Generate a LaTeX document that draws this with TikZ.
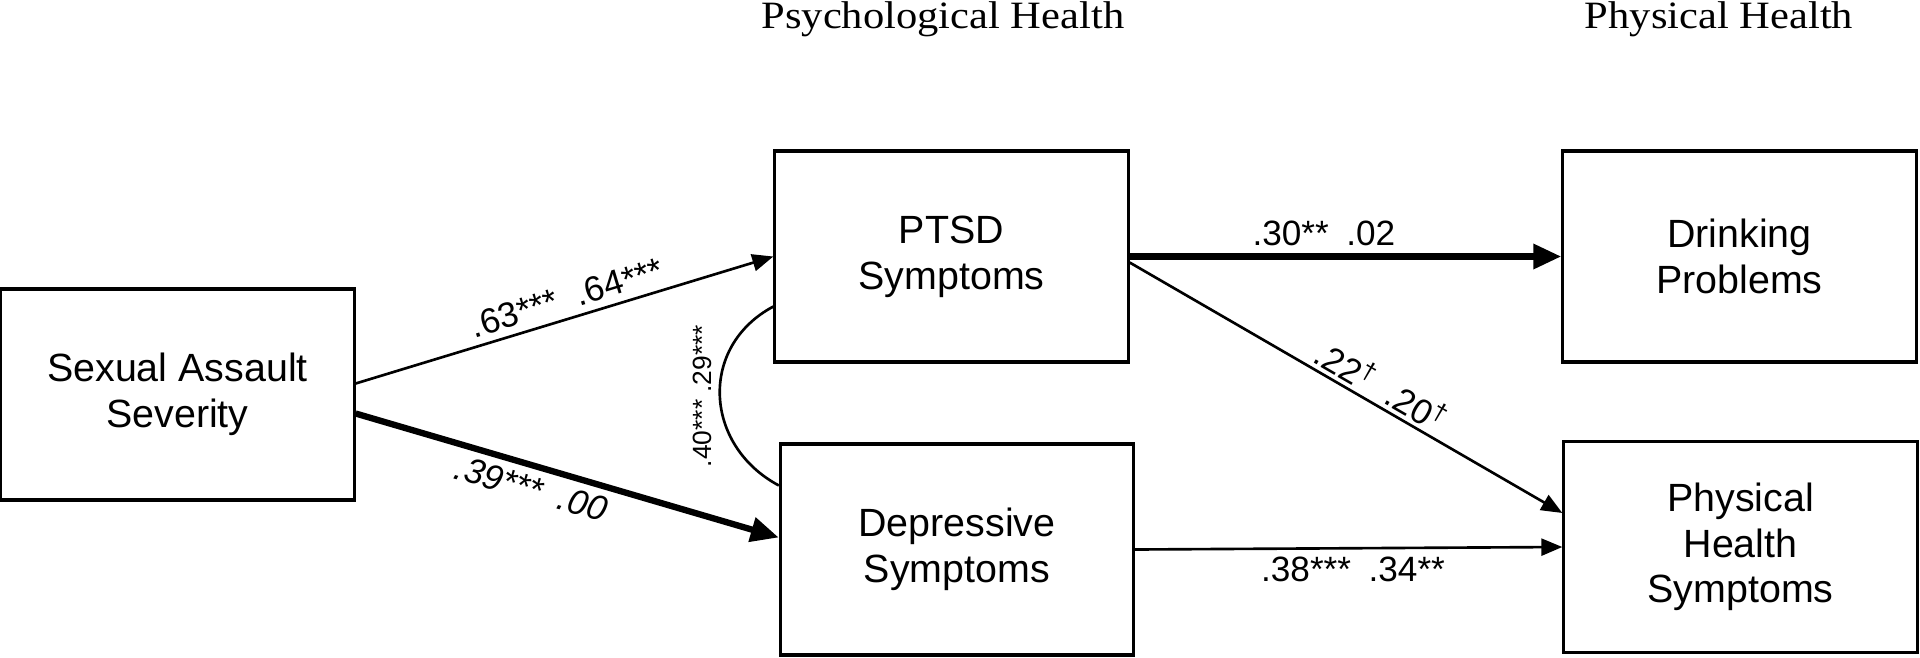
\documentclass[tikz,border=0pt]{standalone}
\usepackage{fontspec}
\setmainfont{Liberation Sans}
\newfontfamily\headfont[FakeStretch=1.1]{Liberation Serif}
\usetikzlibrary{arrows.meta}

\begin{document}
\begin{tikzpicture}[x=0.01cm,y=-0.01cm,
    var/.style={draw,line width=0.9pt,minimum width=3.53cm,minimum height=2.11cm,
      align=center,inner sep=0pt,font=\fontsize{11.2}{13}\selectfont},
    thinpath/.style={line width=0.75pt,-{Triangle[length=2.1mm,width=1.7mm]}},
    boldpath/.style={line width=1.8pt,-{Triangle[length=2.8mm,width=2.4mm]}},
    coef/.style={font=\fontsize{10}{12}\selectfont,inner sep=2pt}]
      \useasboundingbox (0,0) rectangle (1920,657);

      % Column headings
      \node[anchor=base,font=\headfont\fontsize{11}{13}\selectfont] (psyhead) at (943,28) {Psychological Health};
      \node[anchor=base,font=\headfont\fontsize{11}{13}\selectfont] (phyhead) at (1719,28) {Physical Health};

      % Variables
      \node[var] (sas) at (177.5,394.5) {Sexual Assault\\Severity};
      \node[var] (ptsd) at (951.5,256.5) {PTSD\\Symptoms};
      \node[var] (dep) at (957,549.5) {Depressive\\Symptoms};
      \node[var] (drink) at (1739.5,256.5) {Drinking\\Problems};
      \node[var] (phs) at (1740.5,547) {Physical\\Health\\Symptoms};

      % Paths
      \draw[thinpath] ([yshift=1.1mm]sas.east) -- node[coef,sloped,above,pos=0.52] {.63***\ \ .64***} (ptsd.west);
      \draw[boldpath] ([yshift=-1.9mm]sas.east) -- node[coef,sloped,below,pos=0.43] {\itshape .39***\enspace .00} ([yshift=1.2mm]dep.west);
      \draw[boldpath] (ptsd.east) -- node[coef,above,pos=0.45] {.30**\enspace .02} (drink.west);
      \draw[thinpath] ([yshift=-0.6mm]ptsd.east) -- node[coef,sloped,above,pos=0.56,inner sep=1pt] {.22\textsuperscript{†}\enspace.20\textsuperscript{†}} ([yshift=3.4mm]phs.west);
      \draw[thinpath] (dep.east) -- node[coef,below,pos=0.51] {.38***\enspace .34**} (phs.west);

      % Correlation
      \draw[line width=0.75pt] ([yshift=-5mm]ptsd.west) .. controls +(-75,40) and +(-75,-40) .. ([yshift=6.4mm]dep.west)
          node[midway,rotate=90,anchor=south,inner sep=2pt,font=\fontsize{7.5}{9}\selectfont] {.40*** .29***};
  \end{tikzpicture}
\end{document}
